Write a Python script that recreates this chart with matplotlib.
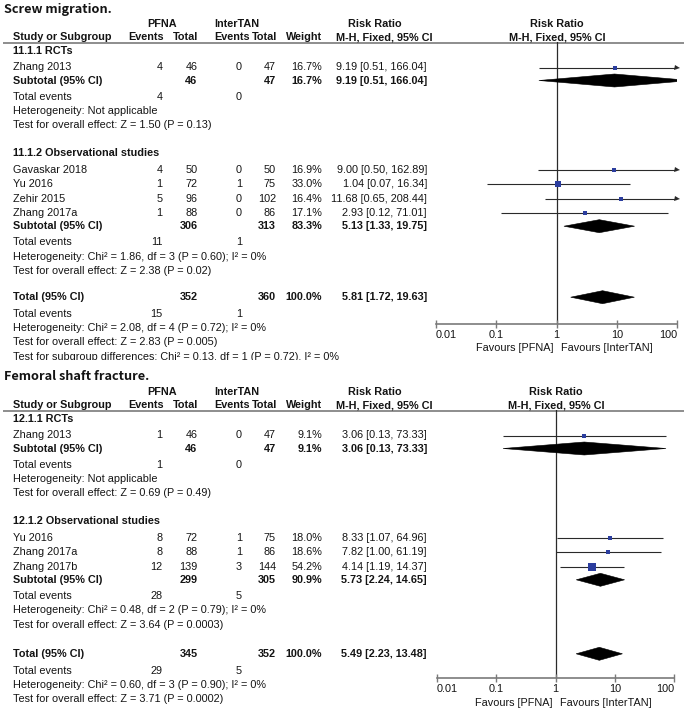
import matplotlib
matplotlib.use("Agg")
import matplotlib.pyplot as plt
from matplotlib.patches import Polygon

plt.rcParams['font.family'] = ['Liberation Sans', 'DejaVu Sans']

# ---------------- data: Screw migration ----------------
sm_title = "Screw migration."
sm_subgroups = ["11.1.1 RCTs", "11.1.2 Observational studies"]
sm_studies = ["Zhang 2013", "Gavaskar 2018", "Yu 2016", "Zehir 2015", "Zhang 2017a"]
sm_study_group = [0, 1, 1, 1, 1]
sm_pfna_events = [4, 4, 1, 5, 1]
sm_pfna_total = [46, 50, 72, 96, 88]
sm_it_events = [0, 0, 1, 0, 0]
sm_it_total = [47, 50, 75, 102, 86]
sm_weight = [16.7, 16.9, 33.0, 16.4, 17.1]
sm_rr = [9.19, 9.00, 1.04, 11.68, 2.93]
sm_lo = [0.51, 0.50, 0.07, 0.65, 0.12]
sm_hi = [166.04, 162.89, 16.34, 208.44, 71.01]
sm_sub_pfna_total = [46, 306]
sm_sub_it_total = [47, 313]
sm_sub_weight = [16.7, 83.3]
sm_sub_rr = [9.19, 5.13]
sm_sub_lo = [0.51, 1.33]
sm_sub_hi = [166.04, 19.75]
sm_sub_pfna_events = [4, 11]
sm_sub_it_events = [0, 1]
sm_sub_het = ["Not applicable", "Chi\u00b2 = 1.86, df = 3 (P = 0.60); I\u00b2 = 0%"]
sm_sub_effect = ["Z = 1.50 (P = 0.13)", "Z = 2.38 (P = 0.02)"]
sm_total = [352, 360]
sm_total_events = [15, 1]
sm_total_rr = [5.81, 1.72, 19.63]
sm_total_het = "Chi\u00b2 = 2.08, df = 4 (P = 0.72); I\u00b2 = 0%"
sm_total_effect = "Z = 2.83 (P = 0.005)"
sm_subgroup_diff = "Chi\u00b2 = 0.13, df = 1 (P = 0.72), I\u00b2 = 0%"

# ---------------- data: Femoral shaft fracture ----------------
fs_title = "Femoral shaft fracture."
fs_subgroups = ["12.1.1 RCTs", "12.1.2 Observational studies"]
fs_studies = ["Zhang 2013", "Yu 2016", "Zhang 2017a", "Zhang 2017b"]
fs_study_group = [0, 1, 1, 1]
fs_pfna_events = [1, 8, 8, 12]
fs_pfna_total = [46, 72, 88, 139]
fs_it_events = [0, 1, 1, 3]
fs_it_total = [47, 75, 86, 144]
fs_weight = [9.1, 18.0, 18.6, 54.2]
fs_rr = [3.06, 8.33, 7.82, 4.14]
fs_lo = [0.13, 1.07, 1.00, 1.19]
fs_hi = [73.33, 64.96, 61.19, 14.37]
fs_sub_pfna_total = [46, 299]
fs_sub_it_total = [47, 305]
fs_sub_weight = [9.1, 90.9]
fs_sub_rr = [3.06, 5.73]
fs_sub_lo = [0.13, 2.24]
fs_sub_hi = [73.33, 14.65]
fs_sub_pfna_events = [1, 28]
fs_sub_it_events = [0, 5]
fs_sub_het = ["Not applicable", "Chi\u00b2 = 0.48, df = 2 (P = 0.79); I\u00b2 = 0%"]
fs_sub_effect = ["Z = 0.69 (P = 0.49)", "Z = 3.64 (P = 0.0003)"]
fs_total = [345, 352]
fs_total_events = [29, 5]
fs_total_rr = [5.49, 2.23, 13.48]
fs_total_het = "Chi\u00b2 = 0.60, df = 3 (P = 0.90); I\u00b2 = 0%"
fs_total_effect = "Z = 3.71 (P = 0.0002)"
fs_subgroup_diff = None

tick_values = [0.01, 0.1, 1, 10, 100]
tick_labels = ["0.01", "0.1", "1", "10", "100"]
fav_left = "Favours [PFNA]"
fav_right = "Favours [InterTAN]"

# ---------------- style ----------------
W, H = 685, 710
FS = 7.8
TXT = '#141414'
GRAY = '#7a7a7a'
BLUE = '#2b3d9e'
LINEC = '#2a2a2a'

fig = plt.figure(figsize=(W / 100, H / 100), dpi=100)


def px_axes(x0, y0, x1, y1):
    ax = fig.add_axes([x0 / W, 1 - y1 / H, (x1 - x0) / W, (y1 - y0) / H])
    ax.patch.set_visible(False)
    return ax


def fmt_rr(r, lo, hi):
    return f"{r:.2f} [{lo:.2f}, {hi:.2f}]"


def draw_panel(P, top, bottom, fx0, fx1, start_y, axis_y, fav_y, gap_total):
    tax = px_axes(0, top, W, bottom)
    tax.set_xlim(0, W)
    tax.set_ylim(bottom, top)
    tax.axis('off')

    line_y = start_y - 9
    col_y = line_y - 5
    hdr_y = col_y - 13
    title_y = hdr_y - 16

    def t(x, y, s, ha='left', bold=False, clip=False):
        tax.text(x, y, s, ha=ha, va='center', fontsize=FS, color=TXT,
                 fontweight='bold' if bold else 'normal', clip_on=clip)

    # columns
    X_NAME, X_EV1, X_TOT1, X_EV2, X_TOT2, X_W, X_RR = 13, 162.5, 197.5, 242, 276, 322, 427
    fc = (fx0 + fx1) / 2

    tax.text(4, title_y + 1, P['title'], ha='left', va='center', fontsize=9.2, color=TXT,
             family=['Noto Sans CJK SC', 'DejaVu Sans'], fontweight='bold')
    t(162, hdr_y, "PFNA", 'center', True)
    t(237, hdr_y, "InterTAN", 'center', True)
    t(375, hdr_y, "Risk Ratio", 'center', True)
    t(fc, hdr_y, "Risk Ratio", 'center', True)
    t(X_NAME, col_y, "Study or Subgroup", 'left', True)
    t(164, col_y, "Events", 'right', True)
    t(198, col_y, "Total", 'right', True)
    t(250, col_y, "Events", 'right', True)
    t(277, col_y, "Total", 'right', True)
    t(322, col_y, "Weight", 'right', True)
    t(384, col_y, "M-H, Fixed, 95% CI", 'center', True)
    t(fc + 1, col_y, "M-H, Fixed, 95% CI", 'center', True)
    tax.plot([3, 684], [line_y + 0.5, line_y + 0.5], color=GRAY, lw=1.2, solid_capstyle='butt')

    # forest axes
    fax = px_axes(fx0, line_y, fx1, axis_y)
    fax.set_xscale('log')
    fax.set_xlim(0.01, 100)
    fax.set_ylim(axis_y, line_y)
    for s in ['top', 'left', 'right']:
        fax.spines[s].set_visible(False)
    fax.spines['bottom'].set_color(GRAY)
    fax.spines['bottom'].set_linewidth(1.2)
    fax.set_yticks([])
    fax.set_xticks(tick_values)
    fax.set_xticklabels(tick_labels)
    fax.minorticks_off()
    fax.tick_params(axis='x', direction='inout', length=6, width=1.0, color=GRAY,
                    labelsize=FS, labelcolor=TXT, pad=1.5)
    labs = fax.get_xticklabels()
    labs[0].set_ha('left')
    labs[-1].set_ha('right')
    fax.axvline(1, color=LINEC, lw=0.9, zorder=1)
    fax.annotate(fav_left, xy=(1, fav_y), xytext=(-2.5, 0), textcoords='offset points',
                 ha='right', va='center', fontsize=FS, color=TXT, annotation_clip=False)
    fax.annotate(fav_right, xy=(1, fav_y), xytext=(3.5, 0), textcoords='offset points',
                 ha='left', va='center', fontsize=FS, color=TXT, annotation_clip=False)

    def diamond(r, lo, hi, y, h=6.5):
        fax.add_patch(Polygon([(lo, y), (r, y - h), (hi, y), (r, y + h)], closed=True,
                              fc='black', ec='black', lw=0.4, zorder=3))

    y = start_y
    ng = len(P['subgroups'])
    for g in range(ng):
        if g > 0:
            y += 28
        t(X_NAME, y, P['subgroups'][g], 'left', True)
        y += 16.5
        idx = [i for i, gg in enumerate(P['group']) if gg == g]
        for k, i in enumerate(idx):
            if k > 0:
                y += 14.4
            t(X_NAME, y, P['studies'][i])
            t(X_EV1, y, str(P['pe'][i]), 'right')
            t(X_TOT1, y, str(P['pt'][i]), 'right')
            t(X_EV2, y, str(P['ie'][i]), 'right')
            t(X_TOT2, y, str(P['it'][i]), 'right')
            t(X_W, y, f"{P['w'][i]:.1f}%", 'right')
            t(X_RR, y, fmt_rr(P['rr'][i], P['lo'][i], P['hi'][i]), 'right')
            lo, hi, r = P['lo'][i], P['hi'][i], P['rr'][i]
            fax.plot([max(lo, 0.01), min(hi, 100)], [y, y], color=LINEC, lw=0.8,
                     solid_capstyle='butt', zorder=2)
            if hi > 100:
                fax.plot([100], [y], marker='>', ms=3.6, color=LINEC, mew=0,
                         clip_on=False, zorder=3)
            side = 1.13 * P['w'][i] ** 0.5
            fax.plot([r], [y], marker='s', ms=side * 0.72, color=BLUE, mec=BLUE, mew=0,
                     clip_on=False, zorder=4)
        y += 13
        t(X_NAME, y, "Subtotal (95% CI)", 'left', True)
        t(X_TOT1, y, str(P['spt'][g]), 'right', True)
        t(X_TOT2, y, str(P['sit'][g]), 'right', True)
        t(X_W, y, f"{P['sw'][g]:.1f}%", 'right', True)
        t(X_RR, y, fmt_rr(P['srr'][g], P['slo'][g], P['shi'][g]), 'right', True)
        diamond(P['srr'][g], P['slo'][g], P['shi'][g], y)
        y += 16
        t(X_NAME, y, "Total events")
        t(X_EV1, y, str(P['spe'][g]), 'right')
        t(X_EV2, y, str(P['sie'][g]), 'right')
        y += 14.5
        t(X_NAME, y, "Heterogeneity: " + P['shet'][g])
        y += 14.5
        t(X_NAME, y, "Test for overall effect: " + P['seff'][g])

    y += gap_total
    t(X_NAME, y, "Total (95% CI)", 'left', True)
    t(X_TOT1, y, str(P['tot'][0]), 'right', True)
    t(X_TOT2, y, str(P['tot'][1]), 'right', True)
    t(X_W, y, "100.0%", 'right', True)
    t(X_RR, y, fmt_rr(*P['trr']), 'right', True)
    diamond(P['trr'][0], P['trr'][1], P['trr'][2], y)
    y += 17
    t(X_NAME, y, "Total events")
    t(X_EV1, y, str(P['tev'][0]), 'right')
    t(X_EV2, y, str(P['tev'][1]), 'right')
    y += 14
    t(X_NAME, y, "Heterogeneity: " + P['thet'])
    y += 14
    t(X_NAME, y, "Test for overall effect: " + P['teff'])
    if P['diff']:
        y += 15
        t(X_NAME, y, "Test for subgroup differences: " + P['diff'], clip=True)


panel_sm = dict(title=sm_title, subgroups=sm_subgroups, studies=sm_studies, group=sm_study_group,
                pe=sm_pfna_events, pt=sm_pfna_total, ie=sm_it_events, it=sm_it_total,
                w=sm_weight, rr=sm_rr, lo=sm_lo, hi=sm_hi,
                spt=sm_sub_pfna_total, sit=sm_sub_it_total, sw=sm_sub_weight,
                srr=sm_sub_rr, slo=sm_sub_lo, shi=sm_sub_hi,
                spe=sm_sub_pfna_events, sie=sm_sub_it_events,
                shet=sm_sub_het, seff=sm_sub_effect,
                tot=sm_total, tev=sm_total_events, trr=sm_total_rr,
                thet=sm_total_het, teff=sm_total_effect, diff=sm_subgroup_diff)
panel_fs = dict(title=fs_title, subgroups=fs_subgroups, studies=fs_studies, group=fs_study_group,
                pe=fs_pfna_events, pt=fs_pfna_total, ie=fs_it_events, it=fs_it_total,
                w=fs_weight, rr=fs_rr, lo=fs_lo, hi=fs_hi,
                spt=fs_sub_pfna_total, sit=fs_sub_it_total, sw=fs_sub_weight,
                srr=fs_sub_rr, slo=fs_sub_lo, shi=fs_sub_hi,
                spe=fs_sub_pfna_events, sie=fs_sub_it_events,
                shet=fs_sub_het, seff=fs_sub_effect,
                tot=fs_total, tev=fs_total_events, trr=fs_total_rr,
                thet=fs_total_het, teff=fs_total_effect, diff=fs_subgroup_diff)

draw_panel(panel_sm, 0, 360, 436, 677, start_y=51, axis_y=324, fav_y=348, gap_total=26)
draw_panel(panel_fs, 360, 710, 437, 674, start_y=419, axis_y=678, fav_y=703, gap_total=29)

fig.savefig("out.png", dpi=100, facecolor='white')
